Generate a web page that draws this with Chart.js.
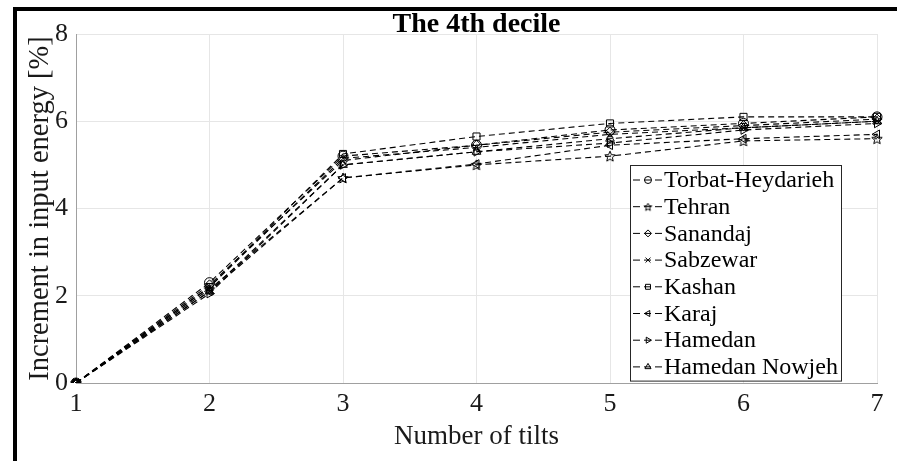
<!DOCTYPE html>
<html>
<head>
<meta charset="utf-8">
<script src="https://cdn.jsdelivr.net/npm/chart.js@4/dist/chart.umd.min.js"></script>
<style>
html, body { margin: 0; padding: 0; background: #fff; }
#wrap { position: relative; width: 897px; height: 461px; overflow: hidden; }
#c { position: absolute; left: 0; top: 0; }
#frame { position: absolute; left: 13px; top: 7px; width: 900px; height: 500px;
         border-left: 4px solid #000; border-top: 4px solid #000; }
</style>
</head>
<body>
<div id="wrap">
  <canvas id="c" width="897" height="461"></canvas>
  <div id="frame"></div>
</div>
<script>
'use strict';

// data
var tilts = ['1', '2', '3', '4', '5', '6', '7'];
var yTicks = [0, 2, 4, 6, 8];
var cities = ['Torbat-Heydarieh', 'Tehran', 'Sanandaj', 'Sabzewar', 'Kashan', 'Karaj', 'Hamedan', 'Hamedan Nowjeh'];
var torbat   = [0, 2.30, 5.20, 5.45, 5.80, 5.95, 6.10];
var tehran   = [0, 2.15, 4.70, 5.00, 5.20, 5.55, 5.60];
var sanandaj = [0, 2.25, 5.10, 5.45, 5.75, 5.90, 6.05];
var sabzewar = [0, 2.20, 5.15, 5.40, 5.70, 5.85, 6.00];
var kashan   = [0, 2.20, 5.25, 5.65, 5.95, 6.10, 6.10];
var karaj    = [0, 2.10, 4.70, 5.02, 5.45, 5.60, 5.70];
var hamedan  = [0, 2.05, 5.00, 5.30, 5.50, 5.80, 5.95];
var nowjeh   = [0, 2.10, 5.00, 5.30, 5.60, 5.85, 6.00];

function pentagram(r) {
  var s = Math.ceil(r * 2 + 3);
  var c = document.createElement('canvas');
  c.width = s; c.height = s;
  var g = c.getContext('2d');
  g.strokeStyle = '#000';
  g.lineWidth = 1;
  g.beginPath();
  for (var k = 0; k < 10; k++) {
    var rr = k % 2 ? r * 0.45 : r;
    var ang = -Math.PI / 2 + k * Math.PI / 5;
    var px = s / 2 + rr * Math.cos(ang), py = s / 2 + rr * Math.sin(ang) + 0.5;
    if (k) g.lineTo(px, py); else g.moveTo(px, py);
  }
  g.closePath();
  g.stroke();
  return c;
}

var star = pentagram(5.5);
var smallStar = pentagram(4);
var markers = [
  { style: 'circle', rot: 0 },
  { style: star, rot: 0 },
  { style: 'rectRot', rot: 0 },
  { style: 'crossRot', rot: 0 },
  { style: 'rect', rot: 0 },
  { style: 'triangle', rot: -90 },
  { style: 'triangle', rot: 90 },
  { style: 'triangle', rot: 0 }
];
var series = [torbat, tehran, sanandaj, sabzewar, kashan, karaj, hamedan, nowjeh];

// legend box inside the axes, like matlab
var boxLegend = {
  id: 'boxLegend',
  afterDatasetsDraw: function (chart) {
    var ctx = chart.ctx, a = chart.chartArea;
    var x0 = a.right - 247, y0 = a.top + 131, w = 211, rowH = 26.7;
    var h = rowH * cities.length + 2;
    ctx.save();
    ctx.fillStyle = '#fff';
    ctx.fillRect(x0, y0, w, h);
    ctx.strokeStyle = '#262626';
    ctx.lineWidth = 1;
    ctx.strokeRect(Math.round(x0) + 0.5, Math.round(y0) + 0.5, w, h);
    chart.data.datasets.forEach(function (ds, i) {
      var cy = y0 + 15 + i * rowH;
      ctx.setLineDash([7, 4]);
      ctx.strokeStyle = '#000';
      ctx.lineWidth = 1;
      ctx.beginPath();
      ctx.moveTo(x0 + 3, cy);
      ctx.lineTo(x0 + 32, cy);
      ctx.stroke();
      ctx.setLineDash([]);
      ctx.fillStyle = 'rgba(0,0,0,0)';
      var ps = ds.pointStyle === star ? smallStar : ds.pointStyle;
      Chart.helpers.drawPoint(ctx, { pointStyle: ps, rotation: ds.pointRotation, radius: 3.5, borderWidth: 1 }, x0 + 18, cy);
      ctx.fillStyle = '#000';
      ctx.font = '24px "Liberation Serif"';
      ctx.textBaseline = 'middle';
      ctx.textAlign = 'left';
      ctx.fillText(ds.label, x0 + 34, cy + 1);
    });
    ctx.restore();
  }
};

Chart.defaults.font.family = '"Liberation Serif", "Times New Roman", serif';
Chart.defaults.color = '#1a1a1a';

var datasets = cities.map(function (name, i) {
  return {
    label: name,
    data: series[i],
    borderColor: '#000',
    borderWidth: 1.1,
    borderDash: [6, 4],
    pointStyle: markers[i].style,
    pointRotation: markers[i].rot,
    pointRadius: 5,
    pointBorderColor: '#000',
    pointBorderWidth: 1,
    pointBackgroundColor: 'rgba(0,0,0,0)',
    fill: false,
    tension: 0
  };
});

new Chart(document.getElementById('c'), {
  type: 'line',
  data: { labels: tilts, datasets: datasets },
  options: {
    responsive: false,
    animation: false,
    layout: { padding: { left: 0, right: 20, top: 0, bottom: 0 } },
    plugins: {
      legend: { display: false },
      tooltip: { enabled: false },
      title: {
        display: true,
        text: 'The 4th decile',
        color: '#000',
        fullSize: false,
        font: { size: 28, weight: 'bold', lineHeight: 1 },
        padding: { top: 11, bottom: -5 }
      }
    },
    scales: {
      x: {
        offset: false,
        grid: { color: '#e6e6e6', drawTicks: false },
        border: { color: '#a0a0a0' },
        ticks: { font: { size: 26 }, padding: 6, maxRotation: 0 },
        title: { display: true, text: 'Number of tilts', color: '#1a1a1a', font: { size: 27 }, padding: { top: 0, bottom: 8 } },
        afterFit: function (s) { s.height = 78; }
      },
      y: {
        min: 0,
        max: 8,
        grid: { color: '#e6e6e6', drawTicks: false },
        border: { color: '#a0a0a0' },
        ticks: { font: { size: 26 }, padding: 8 },
        afterBuildTicks: function (s) { s.ticks = yTicks.map(function (v) { return { value: v }; }); },
        title: { display: true, text: 'Increment in input energy [%]', color: '#1a1a1a', font: { size: 28.5 }, padding: { top: 23, bottom: 0 } },
        afterFit: function (s) { s.width = 76; }
      }
    }
  },
  plugins: [boxLegend]
});
</script>
</body>
</html>
